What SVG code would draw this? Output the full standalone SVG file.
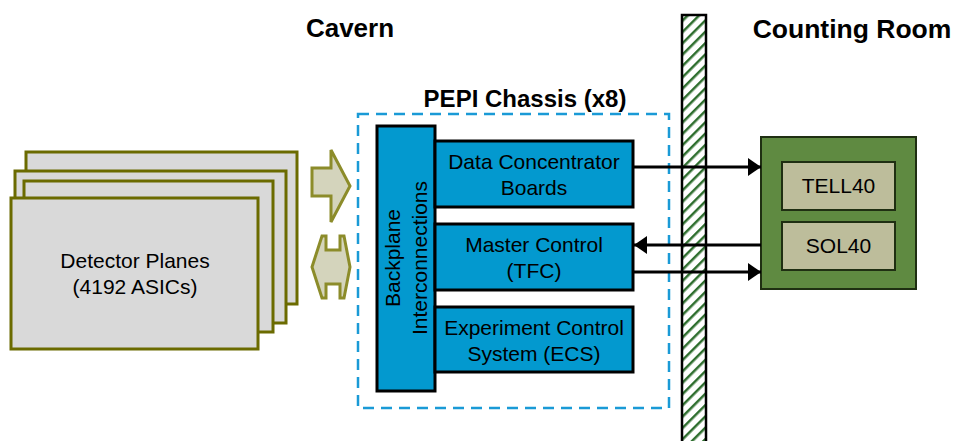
<svg xmlns="http://www.w3.org/2000/svg" width="957" height="441" viewBox="0 0 957 441">
<style>
text{font-family:"Liberation Sans",Arial,sans-serif;fill:#000}
.hdr{font-weight:bold}
.plate{fill:#d9d9d9;stroke:#6b6b00;stroke-width:3}
.fat{fill:#d4d4bc;stroke:#8c8c2a;stroke-width:3;stroke-linejoin:miter}
.blue{fill:#0399cf;stroke:#000;stroke-width:3}
.lbl{font-size:21px;text-anchor:middle}
.conn{stroke:#000;stroke-width:3;fill:none}
</style>
<defs>
<marker id="ah" markerUnits="userSpaceOnUse" markerWidth="14" markerHeight="18" refX="13" refY="9" orient="auto">
<path d="M0,0 L13,9 L0,18 Z" fill="#000"/>
</marker>
<pattern id="hatch" patternUnits="userSpaceOnUse" width="8" height="8" patternTransform="rotate(45)">
<rect width="8" height="8" fill="#fff"/>
<rect x="0" y="0" width="2.5" height="8" fill="#2e6e2e"/>
</pattern>
</defs>

<text class="hdr" x="350" y="37" font-size="26" text-anchor="middle">Cavern</text>
<text class="hdr" x="852" y="38" font-size="26.5" text-anchor="middle">Counting Room</text>
<text class="hdr" x="525" y="107" font-size="24" text-anchor="middle">PEPI Chassis (x8)</text>

<g id="wall">
<rect x="682" y="15" width="24" height="440" fill="url(#hatch)" stroke="#000" stroke-width="2.5"/>
</g>

<g id="detector">
<rect class="plate" x="26" y="152" width="271" height="152"/>
<rect class="plate" x="15" y="171" width="271" height="152"/>
<rect class="plate" x="24" y="181" width="249" height="151"/>
<rect class="plate" x="11" y="198" width="247" height="151"/>
<text class="lbl" x="135" y="268">Detector Planes</text>
<text class="lbl" x="135" y="294">(4192 ASICs)</text>
</g>

<g id="fat-arrows">
<polygon class="fat" points="312,168 331,168 331,150 350,186 331,222 331,196 312,196"/>
<polygon class="fat" points="312,267 322,236 326,236 326,250 340,250 340,236 344,236 350,267 344,298 340,298 340,284 326,284 326,298 322,298"/>
</g>

<g id="pepi">
<rect x="358" y="114" width="311" height="294" fill="none" stroke="#1a9ad6" stroke-width="2.5" stroke-dasharray="11,7"/>
</g>

<g id="backplane">
<rect class="blue" x="377" y="126" width="58" height="265"/>
<text class="lbl" transform="translate(400,258) rotate(-90)">Backplane</text>
<text class="lbl" transform="translate(427,258) rotate(-90)">Interconnections</text>
</g>

<g id="dcb">
<rect class="blue" x="435" y="141" width="198" height="66"/>
<text class="lbl" x="534" y="169">Data Concentrator</text>
<text class="lbl" x="534" y="195">Boards</text>
</g>

<g id="master">
<rect class="blue" x="435" y="224" width="198" height="66"/>
<text class="lbl" x="534" y="252">Master Control</text>
<text class="lbl" x="534" y="278">(TFC)</text>
</g>

<g id="ecs">
<rect class="blue" x="435" y="307" width="198" height="65"/>
<text class="lbl" x="534" y="335">Experiment Control</text>
<text class="lbl" x="534" y="361">System (ECS)</text>
</g>

<g id="counting">
<rect x="761" y="137" width="155" height="152" fill="#5f8a41" stroke="#1f2f12" stroke-width="2"/>
</g>
<g id="tell40">
<rect x="782" y="162" width="113" height="48" fill="#bdbd9b" stroke="#1f2f12" stroke-width="2"/>
<text class="lbl" x="838.5" y="193">TELL40</text>
</g>
<g id="sol40">
<rect x="782" y="222" width="113" height="48" fill="#bdbd9b" stroke="#1f2f12" stroke-width="2"/>
<text class="lbl" x="838.5" y="253">SOL40</text>
</g>

<g id="connectors">
<line class="conn" x1="634" y1="167" x2="761" y2="167" marker-end="url(#ah)"/>
<line class="conn" x1="761" y1="245" x2="634" y2="245" marker-end="url(#ah)"/>
<line class="conn" x1="634" y1="272" x2="761" y2="272" marker-end="url(#ah)"/>
</g>
</svg>
